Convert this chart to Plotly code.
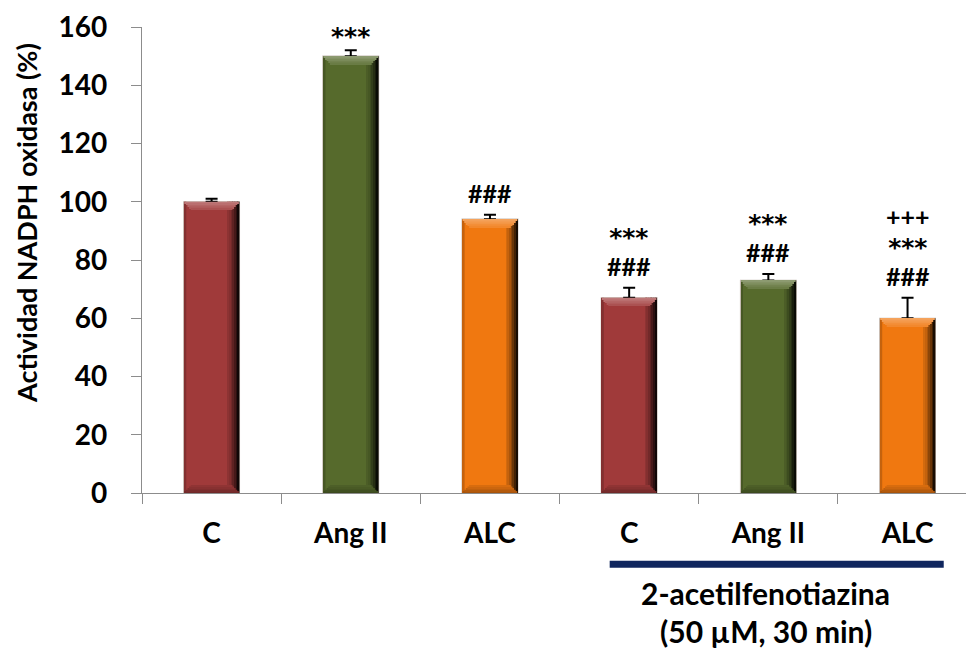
import plotly.graph_objects as go

# Data
categories = ["C", "Ang II", "ALC", "C", "Ang II", "ALC"]
values = [100, 150, 94, 67, 73, 60]
errors = [1.0, 2.0, 1.5, 3.5, 2.2, 7.0]
significance = [[], ["***"], ["###"], ["###", "***"], ["###", "***"], ["###", "***", "+++"]]
y_ticks = [0, 20, 40, 60, 80, 100, 120, 140, 160]

base_colors = [(160, 58, 58), (86, 106, 44), (240, 120, 16)] * 2

FONT = "Lato"
BAR_W = 0.40


def mix(c, t, amount):
    return tuple(int(round(a + (b - a) * amount)) for a, b in zip(c, t))


def rgb(c):
    return "rgb(%d,%d,%d)" % c


x = list(range(len(categories)))
fig = go.Figure()

# main bar body
fig.add_trace(go.Bar(
    x=x, y=values, width=BAR_W,
    marker=dict(color=[rgb(c) for c in base_colors],
                line=dict(color="rgb(196,186,178)", width=1.2)),
    error_y=dict(type="data", array=errors, arrayminus=[0] * len(values),
                 symmetric=False, color="black", thickness=2, width=6),
    hoverinfo="skip", showlegend=False,
))

# shading along the right edge (dark gradient) and a faint left edge
n_strips = 7
strip_w = 0.012
for k in range(n_strips):
    amt = 0.12 + 0.78 * (k / (n_strips - 1)) ** 1.4
    fig.add_trace(go.Bar(
        x=x, y=values, width=strip_w,
        offset=BAR_W / 2 - (n_strips - k) * strip_w,
        marker=dict(color=[rgb(mix(c, (0, 0, 0), amt)) for c in base_colors], line=dict(width=0)),
        hoverinfo="skip", showlegend=False,
    ))
fig.add_trace(go.Bar(
    x=x, y=values, width=0.014, offset=-BAR_W / 2 + 0.004,
    marker=dict(color=[rgb(mix(c, (0, 0, 0), 0.18)) for c in base_colors], line=dict(width=0)),
    hoverinfo="skip", showlegend=False,
))

# bevelled top (lighter) and bottom (darker) edges
bevel_steps = 5
step_h = 0.55
step_dx = 0.0115
for k in range(bevel_steps):
    w = BAR_W - 0.008 - 2 * k * step_dx
    light = 0.32 - 0.05 * k
    fig.add_trace(go.Bar(
        x=x, y=[step_h] * len(values), base=[v - (k + 1) * step_h for v in values],
        width=w,
        marker=dict(color=[rgb(mix(c, (255, 255, 255), light)) for c in base_colors], line=dict(width=0)),
        hoverinfo="skip", showlegend=False,
    ))
    dark = 0.30 - 0.05 * k
    fig.add_trace(go.Bar(
        x=x, y=[step_h] * len(values), base=[k * step_h for _ in values],
        width=w,
        marker=dict(color=[rgb(mix(c, (0, 0, 0), dark)) for c in base_colors], line=dict(width=0)),
        hoverinfo="skip", showlegend=False,
    ))

# significance marks stacked above each error bar (one text block per bar)
mark_style = {
    "***": "font-family:'DejaVu Sans';font-size:25px",
    "###": "font-family:Lato;font-size:25px",
    "+++": "font-family:Lato;font-size:25px",
}
for i, marks in enumerate(significance):
    if not marks:
        continue
    top = values[i] + errors[i]
    lift = 1.6 if marks[0] == "###" else -0.8
    lines = ['<span style="%s"><b>%s</b></span>' % (mark_style[m], m) for m in reversed(marks)]
    fig.add_annotation(
        x=i, y=top + lift, text="<br>".join(lines), showarrow=False,
        yanchor="bottom", align="center",
        font=dict(family=FONT, size=23, color="black"),
    )

# treatment group underline and caption
fig.add_shape(type="line", xref="x", yref="paper", x0=2.86, x1=5.26, y0=-0.153, y1=-0.153,
              line=dict(color="#10265e", width=7))
fig.add_annotation(x=3.98, xref="x", y=-(593 - 493) / 466, yref="paper", showarrow=False,
                   text="<b>2-acetilfenotiazina</b>", yanchor="middle",
                   font=dict(family=FONT, size=30, color="black"))
fig.add_annotation(x=3.98, xref="x", y=-(631 - 493) / 466, yref="paper", showarrow=False,
                   text="<b>(50 µM, 30 min)</b>", yanchor="middle",
                   font=dict(family=FONT, size=30, color="black"))

# y-axis title
fig.add_annotation(x=(27 - 142) / 824, xref="paper", y=(493 - 223) / 466, yref="paper",
                   showarrow=False, textangle=-90, xanchor="center", yanchor="middle",
                   text="<b>Actividad NADPH oxidasa (%)</b>",
                   font=dict(family=FONT, size=27, color="black"))

fig.update_layout(
    width=966, height=651,
    margin=dict(l=142, r=0, t=27, b=158),
    paper_bgcolor="white", plot_bgcolor="white",
    barmode="overlay",
    font=dict(family=FONT, color="black"),
    xaxis=dict(
        range=[-0.5, 5.42], tickvals=x, ticktext=["<b>%s</b>" % c for c in categories],
        ticks="", showgrid=False, zeroline=False,
        showline=True, linecolor="#8c8c8c", linewidth=1.3,
        tickfont=dict(family=FONT, size=28, color="black"),
        ticklabelstandoff=15,
        minor=dict(ticks="outside", tick0=-0.5, dtick=1, ticklen=10,
                   tickcolor="#8c8c8c", tickwidth=1.3, showgrid=False),
    ),
    yaxis=dict(
        range=[0, 160], tickvals=y_ticks, ticktext=["<b>%d</b>" % t for t in y_ticks],
        ticks="outside", ticklen=10, tickcolor="#8c8c8c", tickwidth=1.3,
        showgrid=False, zeroline=False,
        showline=True, linecolor="#8c8c8c", linewidth=1.3,
        tickfont=dict(family=FONT, size=28, color="black"),
        ticklabelstandoff=18,
    ),
)

fig.write_html("out.html")
